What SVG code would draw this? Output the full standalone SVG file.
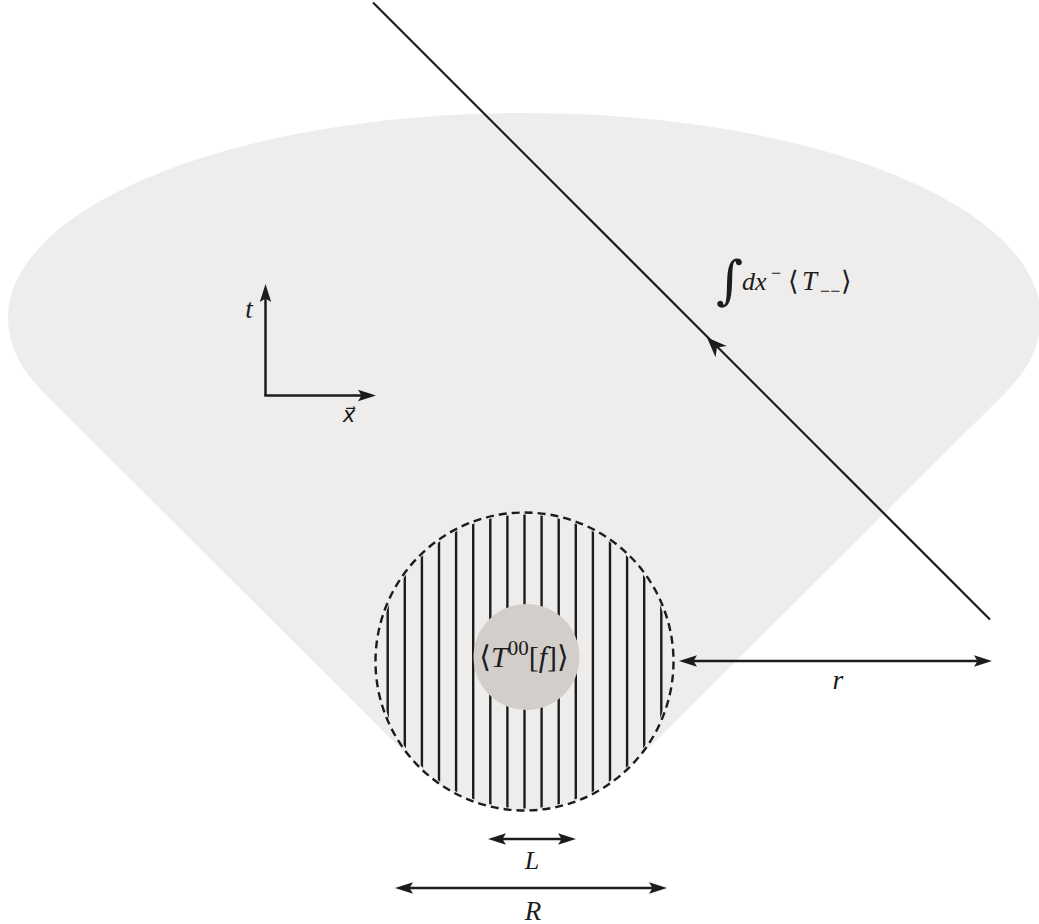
<svg xmlns="http://www.w3.org/2000/svg" width="1039" height="924" viewBox="0 0 1039 924">
<style>
.bg{fill:#ffffff}
.region{fill:#eeedeb;stroke:none}
.ln{stroke:#1c1c1c;fill:none}
.hatch{stroke:#1c1c1c;stroke-width:2.4;fill:none}
.dash{stroke:#1c1c1c;stroke-width:2.4;fill:none;stroke-dasharray:8 5}
.disk{fill:#d2cec9}
.m{font-family:"Liberation Serif","DejaVu Serif","DejaVu Sans",serif;fill:#1c1c1c}
.i{font-style:italic}
</style>
<defs>
<marker id="ah" markerUnits="userSpaceOnUse" markerWidth="20" markerHeight="14" viewBox="0 0 20 14" refX="10" refY="7" orient="auto-start-reverse">
<path d="M18 7 L0 1.3 L3.5 7 L0 12.7 Z" fill="#1c1c1c"/>
</marker>
<clipPath id="hc"><circle cx="524.5" cy="661.5" r="147"/></clipPath>
</defs>
<rect class="bg" x="0" y="0" width="1039" height="924"/>

<g id="lightcone">
<path class="region" d="M44.4 393.6 L419.1 766.9 A149 149 0 0 0 629.9 766.9 L1004.6 393.6 A516.5 205 0 1 0 44.4 393.6 Z"/>
</g>

<g id="source-region">
<g clip-path="url(#hc)">
<line class="hatch" x1="387.7" y1="500" x2="387.7" y2="820"/>
<line class="hatch" x1="404.8" y1="500" x2="404.8" y2="820"/>
<line class="hatch" x1="421.9" y1="500" x2="421.9" y2="820"/>
<line class="hatch" x1="439.0" y1="500" x2="439.0" y2="820"/>
<line class="hatch" x1="456.1" y1="500" x2="456.1" y2="820"/>
<line class="hatch" x1="473.2" y1="500" x2="473.2" y2="820"/>
<line class="hatch" x1="490.3" y1="500" x2="490.3" y2="820"/>
<line class="hatch" x1="507.4" y1="500" x2="507.4" y2="820"/>
<line class="hatch" x1="524.5" y1="500" x2="524.5" y2="820"/>
<line class="hatch" x1="541.6" y1="500" x2="541.6" y2="820"/>
<line class="hatch" x1="558.7" y1="500" x2="558.7" y2="820"/>
<line class="hatch" x1="575.8" y1="500" x2="575.8" y2="820"/>
<line class="hatch" x1="592.9" y1="500" x2="592.9" y2="820"/>
<line class="hatch" x1="610.0" y1="500" x2="610.0" y2="820"/>
<line class="hatch" x1="627.1" y1="500" x2="627.1" y2="820"/>
<line class="hatch" x1="644.2" y1="500" x2="644.2" y2="820"/>
<line class="hatch" x1="661.3" y1="500" x2="661.3" y2="820"/>
</g>
<circle class="dash" cx="524.5" cy="661.5" r="149"/>
</g>

<g id="stress-tensor">
<circle class="disk" cx="526.5" cy="657" r="53"/>
<text class="m" x="524" y="667" text-anchor="middle" style="font-size:30px">⟨<tspan class="i">T</tspan><tspan style="font-size:21px" dy="-12">00</tspan><tspan dy="12">[</tspan><tspan class="i">f</tspan>]⟩</text>
</g>

<g id="connectors">
<line class="ln" stroke-width="2.5" x1="265.5" y1="395.5" x2="265.5" y2="292" marker-end="url(#ah)"/>
<line class="ln" stroke-width="2.5" x1="264.3" y1="395.5" x2="368" y2="395.5" marker-end="url(#ah)"/>
<line class="ln" stroke-width="2.2" x1="373" y1="2.5" x2="990" y2="619.5"/>
<path d="M707 337.5 L726.8 346 L716.9 347.4 L715.5 357.3 Z" fill="#1c1c1c"/>
<line class="ln" stroke-width="2.5" x1="687" y1="661" x2="984" y2="661" marker-start="url(#ah)" marker-end="url(#ah)"/>
<line class="ln" stroke-width="2.5" x1="496" y1="839" x2="568" y2="839" marker-start="url(#ah)" marker-end="url(#ah)"/>
<line class="ln" stroke-width="2.5" x1="403" y1="888" x2="659" y2="888" marker-start="url(#ah)" marker-end="url(#ah)"/>
</g>

<g id="labels">
<text class="m i" x="249" y="318" text-anchor="middle" style="font-size:27px">t</text>
<text class="i" x="349" y="422" text-anchor="middle" style="font-family:'DejaVu Sans',sans-serif;font-size:21px;fill:#1c1c1c">x⃗</text>
<text class="m" y="290" style="font-size:27px"><tspan x="716" y="298" style="font-size:52px;font-family:'DejaVu Serif',serif">∫</tspan><tspan class="i" x="742" y="290" style="font-size:26px">dx</tspan><tspan x="771" y="279" style="font-size:18px">−</tspan><tspan x="788" y="290">⟨</tspan><tspan class="i" x="802">T</tspan><tspan x="820" y="297" style="font-size:18px">−−</tspan><tspan x="841" y="290">⟩</tspan></text>
<text class="m i" x="838" y="689" text-anchor="middle" style="font-size:28px">r</text>
<text class="m i" x="532" y="869" text-anchor="middle" style="font-size:26px">L</text>
<text class="m i" x="533" y="920" text-anchor="middle" style="font-size:27px">R</text>
</g>
</svg>
